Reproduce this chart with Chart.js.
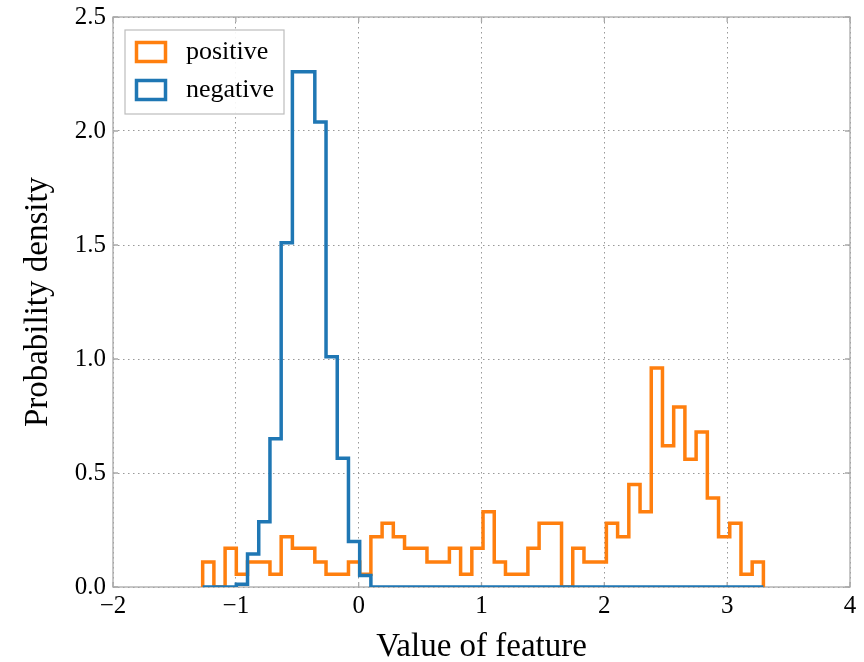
<!DOCTYPE html>
<html>
<head>
<meta charset="utf-8">
<script src="https://cdn.jsdelivr.net/npm/chart.js@4.4.1/dist/chart.umd.min.js"></script>
<style>
  html, body { margin: 0; padding: 0; background: #fff; }
  #wrap { width: 864px; height: 662px; }
</style>
</head>
<body>
<div id="wrap"><canvas id="histChart" width="864" height="662"></canvas></div>
<script>
// histogram bins shared by both series (50 bins over the data range)
const seriesNames = ['positive', 'negative'];
const binLo = -1.27;
const binHi = 3.295;
const binCount = 50;

const positiveDensity = [
  0.11, 0, 0.17, 0.056, 0.11, 0.11, 0.056, 0.22, 0.17, 0.17,
  0.11, 0.056, 0.056, 0.11, 0.056, 0.22, 0.28, 0.22, 0.17, 0.17,
  0.11, 0.11, 0.17, 0.056, 0.17, 0.33, 0.11, 0.056, 0.056, 0.17,
  0.28, 0.28, 0, 0.17, 0.11, 0.11, 0.28, 0.22, 0.45, 0.33,
  0.96, 0.62, 0.79, 0.56, 0.68, 0.39, 0.22, 0.28, 0.056, 0.11
];
const negativeDensity = [
  0, 0, 0, 0.012, 0.145, 0.286, 0.65, 1.51, 2.26, 2.26,
  2.04, 1.01, 0.565, 0.2, 0.05, 0, 0, 0, 0, 0,
  0, 0, 0, 0, 0, 0, 0, 0, 0, 0,
  0, 0, 0, 0, 0, 0, 0, 0, 0, 0,
  0, 0, 0, 0, 0, 0, 0, 0, 0, 0
];

const xTicks = [-2, -1, 0, 1, 2, 3, 4];
const yTicks = [0, 0.5, 1.0, 1.5, 2.0, 2.5];

const binWidth = (binHi - binLo) / binCount;

// outline of a step histogram: up the first edge, across each bin, down the last edge
function stepOutline(heights) {
  const pts = [{x: binLo, y: 0}];
  heights.forEach((h, i) => {
    pts.push({x: binLo + i * binWidth, y: h});
    pts.push({x: binLo + (i + 1) * binWidth, y: h});
  });
  pts.push({x: binHi, y: 0});
  return pts;
}

const serif = 'Liberation Serif, Times New Roman, serif';
const frameGray = '#a9a9a9';

const frameAndLegend = {
  id: 'frameAndLegend',
  beforeDatasetsDraw(chart) {
    const {ctx, chartArea: a, scales: {x, y}} = chart;
    ctx.save();
    ctx.strokeStyle = frameGray;
    ctx.lineWidth = 1.3;
    ctx.strokeRect(a.left, a.top, a.right - a.left, a.bottom - a.top);
    ctx.beginPath();
    xTicks.forEach(v => {
      const px = x.getPixelForValue(v);
      ctx.moveTo(px, a.bottom); ctx.lineTo(px, a.bottom - 5);
      ctx.moveTo(px, a.top); ctx.lineTo(px, a.top + 5);
    });
    yTicks.forEach(v => {
      const py = y.getPixelForValue(v);
      ctx.moveTo(a.left, py); ctx.lineTo(a.left + 5, py);
      ctx.moveTo(a.right, py); ctx.lineTo(a.right - 5, py);
    });
    ctx.stroke();
    ctx.restore();
  },
  afterDatasetsDraw(chart) {
    const {ctx, chartArea: a} = chart;
    const bx = a.left + 12, by = a.top + 13;
    ctx.save();
    ctx.fillStyle = 'rgba(255,255,255,0.9)';
    ctx.fillRect(bx, by, 159, 84);
    ctx.strokeStyle = '#bdbdbd';
    ctx.lineWidth = 1.2;
    ctx.strokeRect(bx, by, 159, 84);
    ctx.font = '26px ' + serif;
    ctx.textBaseline = 'middle';
    chart.data.datasets.forEach((ds, i) => {
      const cy = by + 22 + i * 38;
      ctx.strokeStyle = ds.borderColor;
      ctx.lineWidth = 3.5;
      ctx.strokeRect(bx + 11.5, cy - 9.5, 29, 19);
      ctx.fillStyle = '#000';
      ctx.fillText(ds.label, bx + 61, cy);
    });
    ctx.restore();
  }
};

const histChart = new Chart(document.getElementById('histChart'), {
  type: 'line',
  data: {
    datasets: [
      {
        label: seriesNames[0],
        data: stepOutline(positiveDensity),
        borderColor: '#ff7f0e',
        borderWidth: 3.5,
        pointRadius: 0,
        fill: false,
        order: 1
      },
      {
        label: seriesNames[1],
        data: stepOutline(negativeDensity),
        borderColor: '#1f77b4',
        borderWidth: 3.5,
        pointRadius: 0,
        fill: false,
        order: 0
      }
    ]
  },
  options: {
    responsive: false,
    animation: false,
    devicePixelRatio: 1,
    layout: { padding: { top: 16, right: 14, left: 0, bottom: 0 } },
    plugins: {
      legend: { display: false },
      tooltip: { enabled: false }
    },
    elements: { line: { borderJoinStyle: 'miter', tension: 0 } },
    scales: {
      x: {
        type: 'linear',
        min: -2,
        max: 4,
        afterBuildTicks: s => { s.ticks = xTicks.map(v => ({value: v})); },
        afterFit: s => { s.height = 75; },
        border: { display: false, dash: [1.5, 3.5] },
        grid: { color: '#999', lineWidth: 1, drawTicks: false },
        ticks: {
          color: '#000',
          padding: 4,
          font: { family: serif, size: 25 },
          callback: v => String(v).replace('-', '\u2212')
        },
        title: {
          display: true,
          text: 'Value of feature',
          color: '#000',
          font: { family: serif, size: 33, lineHeight: 0.9 },
          padding: { top: 0, bottom: 0 }
        }
      },
      y: {
        min: 0,
        max: 2.5,
        afterBuildTicks: s => { s.ticks = yTicks.map(v => ({value: v})); },
        afterFit: s => { s.width = 113; },
        border: { display: false, dash: [1.5, 3.5] },
        grid: { color: '#999', lineWidth: 1, drawTicks: false },
        ticks: {
          color: '#000',
          padding: 7,
          font: { family: serif, size: 25, lineHeight: 0.8 },
          callback: v => Number(v).toFixed(1)
        },
        title: {
          display: true,
          text: 'Probability density',
          color: '#000',
          font: { family: serif, size: 33, lineHeight: 1.2 },
          padding: { top: 19, bottom: 0 }
        }
      }
    }
  },
  plugins: [frameAndLegend]
});
</script>
</body>
</html>
